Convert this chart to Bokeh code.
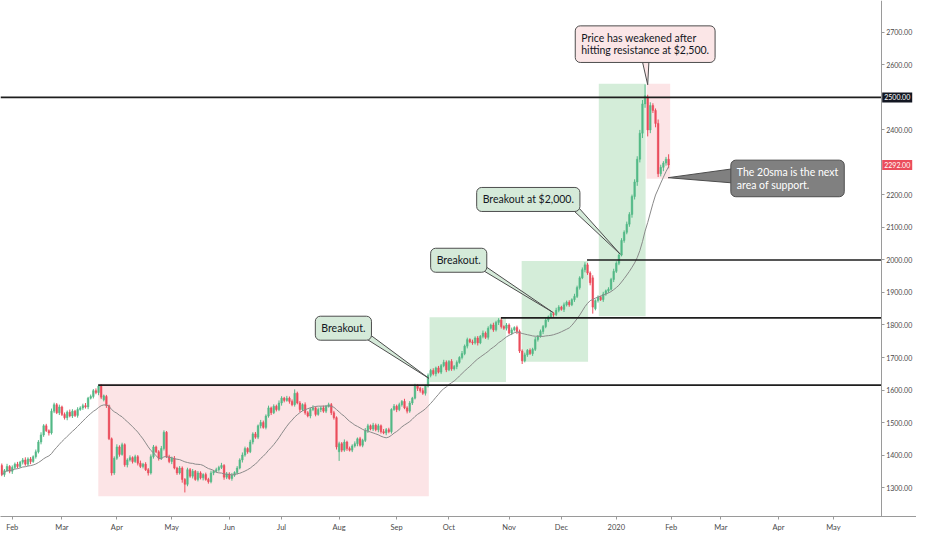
import numpy as np
import pandas as pd
from bokeh.plotting import figure
from bokeh.models import Range1d, FixedTicker, Label, NumeralTickFormatter, LinearAxis
from bokeh.embed import file_html
from bokeh.resources import INLINE

# ---------------- data ----------------
holidays = ["2019-02-18", "2019-04-19", "2019-05-27", "2019-07-04", "2019-09-02",
            "2019-11-28", "2019-12-25", "2020-01-01", "2020-01-20", "2020-02-17", "2020-04-10"]

opens = [
    1368,1340,1352,1365,1350,1362,1372,1365,1378,1385,1372,1388,1380,1395,1410,1440,
    1462,1490,1475,1468,1535,1555,1530,1548,1525,1515,1532,1520,1535,1522,1540,1545,
    1552,1548,1575,1580,1598,1592,1612,1570,1580,1552,1450,1345,1390,1425,1402,1432,
    1370,1385,1392,1380,1395,1375,1365,1372,1355,1345,1395,1425,1410,1390,1420,1470,
    1395,1380,1390,1360,1345,1360,1325,1310,1355,1335,1350,1325,1345,1330,1340,1325,
    1318,1345,1350,1355,1362,1368,1332,1342,1328,1338,1346,1360,1385,1400,1420,1410,
    1440,1465,1455,1490,1500,1485,1520,1545,1530,1550,1540,1560,1575,1568,1575,1565,
    1555,1590,1560,1540,1555,1530,1520,1540,1545,1525,1540,1545,1535,1550,1555,1530,
    1515,1410,1435,1415,1440,1420,1415,1428,1435,1450,1430,1445,1475,1490,1480,1492,
    1478,1490,1472,1468,1478,1472,1540,1550,1540,1555,1565,1545,1535,1560,1575,1612,
    1605,1598,1590,1612,1645,1660,1650,1668,1655,1675,1685,1662,1688,1665,1672,1685,
    1700,1712,1735,1755,1748,1745,1760,1745,1765,1775,1762,1790,1800,1785,1808,1815,
    1795,1790,1800,1775,1785,1792,1780,1720,1690,1708,1722,1712,1725,1755,1765,1780,
    1795,1815,1825,1835,1832,1845,1855,1848,1862,1870,1862,1878,1888,1915,1945,1970,
    1985,1960,1945,1850,1875,1885,1878,1895,1905,1910,1940,1965,1990,2015,2060,2085,
    2110,2140,2195,2240,2310,2390,2480,2500,2400,2475,2460,2420,2265,2285,2298,2310,
]
closes = [
    1340,1352,1365,1350,1362,1372,1365,1378,1385,1372,1388,1380,1395,1410,1440,1462,
    1490,1475,1468,1535,1555,1530,1548,1525,1515,1532,1520,1535,1522,1540,1545,1552,
    1548,1575,1580,1598,1592,1612,1578,1582,1552,1450,1345,1390,1425,1402,1432,1370,
    1385,1392,1380,1395,1375,1365,1372,1355,1345,1395,1425,1410,1390,1420,1470,1395,
    1380,1390,1360,1345,1360,1325,1310,1355,1335,1350,1325,1345,1330,1340,1325,1318,
    1345,1350,1355,1362,1368,1332,1342,1328,1338,1346,1360,1385,1400,1420,1410,1440,
    1465,1455,1490,1500,1485,1520,1545,1530,1550,1540,1560,1575,1568,1575,1565,1555,
    1590,1560,1540,1555,1530,1520,1540,1545,1525,1540,1545,1535,1550,1555,1530,1515,
    1425,1435,1415,1440,1420,1415,1428,1435,1450,1430,1445,1475,1490,1480,1492,1478,
    1490,1472,1468,1478,1472,1540,1550,1540,1555,1565,1545,1535,1560,1575,1612,1605,
    1598,1590,1612,1645,1660,1650,1668,1655,1675,1685,1662,1688,1665,1672,1685,1700,
    1712,1735,1755,1748,1745,1760,1745,1765,1775,1762,1790,1800,1785,1808,1815,1795,
    1790,1800,1775,1785,1792,1780,1720,1690,1708,1722,1712,1725,1755,1765,1780,1795,
    1815,1825,1835,1832,1845,1855,1848,1862,1870,1862,1878,1888,1915,1945,1970,1985,
    1960,1930,1855,1875,1885,1878,1895,1905,1910,1940,1965,1990,2015,2060,2085,2110,
    2140,2195,2240,2310,2390,2480,2505,2400,2475,2460,2420,2265,2285,2298,2310,2292,
]
upper_wick = [
    6,5,8,4,6,5,7,4,6,8,5,6,4,7,6,8,
    5,6,4,8,6,5,7,4,6,5,8,6,4,7,5,6,
    8,4,6,5,7,5,6,4,5,3,4,6,8,5,6,4,
    5,7,4,6,5,8,4,6,5,7,6,4,5,8,6,4,
    6,5,7,4,6,5,4,6,5,7,4,6,5,4,6,5,
    7,4,6,5,8,4,6,5,7,4,6,5,8,6,4,7,
    5,6,4,8,6,5,7,4,6,5,8,6,4,7,5,6,
    12,5,6,4,7,5,6,8,4,6,5,7,4,6,5,6,
    4,6,5,8,4,6,5,7,4,6,5,8,6,4,7,5,
    6,4,8,5,6,4,7,5,6,4,8,5,6,4,7,6,
    5,8,4,6,5,7,4,6,5,8,6,4,7,5,6,4,
    8,5,6,4,7,5,6,4,8,5,6,4,7,5,6,8,
    4,6,5,7,4,6,6,5,7,4,6,5,8,4,6,5,
    7,4,6,5,8,6,4,7,5,6,4,8,6,5,7,8,
    6,5,8,4,6,5,7,4,6,5,8,6,5,7,6,8,
    7,6,8,9,10,12,35,8,10,7,6,12,8,6,7,15,
]
lower_wick = [
    5,7,4,6,8,5,6,4,7,5,6,8,4,6,5,7,
    6,4,8,5,6,4,7,5,6,8,4,6,5,7,4,6,
    5,7,4,6,5,8,6,5,7,4,8,6,5,7,4,6,
    8,5,6,4,7,5,6,4,8,5,6,4,7,5,6,4,
    5,8,4,6,5,10,25,6,5,7,4,6,5,8,4,6,
    5,7,4,6,5,8,6,4,7,5,6,4,8,5,6,4,
    7,5,6,8,4,6,5,7,4,6,5,8,6,4,7,5,
    6,4,8,5,6,4,7,5,6,4,8,5,6,4,7,6,
    8,28,6,5,7,4,6,5,8,4,6,5,7,4,6,5,
    8,6,4,7,5,6,4,8,5,6,4,7,5,6,4,8,
    6,5,7,4,6,5,8,4,6,5,7,4,6,5,8,4,
    6,5,7,4,6,5,8,4,6,5,7,4,6,5,8,6,
    5,7,4,6,5,8,6,10,5,6,4,7,5,6,4,8,
    5,6,4,7,5,6,4,8,5,6,4,7,5,6,4,8,
    6,8,20,5,6,4,7,5,6,4,8,5,6,4,7,6,
    8,10,9,12,10,15,12,20,10,8,12,10,8,12,8,10,
]

# drawn zones (bar index / price)
zone_left = [36.9, 163.6, 198.8, 228.3, 246.6]
zone_right = [163.3, 192.8, 224.2, 246.2, 255.6]
zone_bottom = [1273, 1625, 1687, 1827, 2250]
zone_top = [1619, 1824, 1997, 2542, 2542]
zone_kind = ["down", "up", "up", "up", "down"]

# horizontal levels
level_price = [1615, 1822, 2000, 2500]
level_start = [36.9, 190.9, 223.8, -0.5]

y_ticks = [1300, 1400, 1500, 1600, 1700, 1800, 1900, 2000, 2100, 2200, 2400, 2600, 2700]
last_price = 2292
resistance = 2500

# callouts: text, top-left anchor (bar index, price), pointer (base1, base2, tip)
callout_text = ["Breakout.", "Breakout.", "Breakout at $2,000.",
                "Price has weakened after\nhitting resistance at $2,500.",
                "The 20sma is the next\narea of support."]
callout_x = [119.9, 164.0, 181.6, 219.3, 278.8]
callout_y = [1827, 2036, 2223, 2720, 2307]
callout_kind = ["green", "green", "green", "pink", "gray"]
pointer_xs = [[136.5, 140.5, 163.3], [181.5, 185.0, 210.7], [216.5, 219.8, 236.5],
              [244.0, 247.7, 247.0], [281.0, 281.0, 254.8]]
pointer_ys = [[1772, 1772, 1636], [1980, 1980, 1839], [2168, 2168, 2018],
              [2645, 2645, 2539], [2282, 2236, 2253]]

# ---------------- build ----------------
days = pd.bdate_range("2019-01-28", "2020-06-30", freq="C", holidays=holidays)
n = len(closes)
idx = np.arange(n)
o = np.array(opens, float)
c = np.array(closes, float)
hi = np.maximum(o, c) + np.array(upper_wick)
lo = np.minimum(o, c) - np.array(lower_wick)
up = c >= o
GREEN, RED = "#53b987", "#eb4d5c"
col = [GREEN if u else RED for u in up]

sma = pd.Series(c).rolling(20, min_periods=1).mean().values

# month ticks
ser = pd.Series(np.arange(len(days)), index=days)
month_ticks, month_labels = [], {}
for per, grp in ser.groupby(days.to_period("M")):
    if per < pd.Period("2019-02", "M") or per > pd.Period("2020-05", "M"):
        continue
    i = int(grp.iloc[0])
    month_ticks.append(i)
    month_labels[i] = str(per.year) if per.month == 1 else per.strftime("%b")

AXIS_X = 336.3     # price scale position
XEND = 349.8       # right edge of the canvas
p = figure(width=916, height=534, output_backend="svg", toolbar_location=None,
           x_range=Range1d(-0.5, XEND), y_range=Range1d(1211, 2798),
           y_axis_location=None, min_border_left=0, min_border_top=0,
           min_border_right=0, min_border_bottom=0)
p.outline_line_color = None
p.grid.visible = False
p.background_fill_color = "white"

yax = LinearAxis(fixed_location=AXIS_X)
p.add_layout(yax, "right")

FONT = "Lato"
for ax in (p.xaxis[0], yax):
    ax.axis_line_color = "#9a9a9a"
    ax.major_tick_line_color = "#9a9a9a"
    ax.minor_tick_line_color = None
    ax.major_tick_in = 0
    ax.major_tick_out = 3
    ax.major_label_text_font = FONT
    ax.major_label_text_font_size = "7px"
    ax.major_label_text_color = "#4a4a4a"
p.xaxis.major_label_standoff = 3
yax.major_label_standoff = 2
p.xaxis.major_label_text_font_size = "7.5px"
p.xaxis.ticker = FixedTicker(ticks=month_ticks)
p.xaxis.major_label_overrides = month_labels
yax.ticker = FixedTicker(ticks=y_ticks)
yax.formatter = NumeralTickFormatter(format="0.00")

zone_fill = {"down": "#fce4e6", "up": "#d4edd9"}
p.quad(left=zone_left, right=zone_right, bottom=zone_bottom, top=zone_top,
       fill_color=[zone_fill[k] for k in zone_kind], line_color=None)

p.segment(x0=idx, y0=lo, x1=idx, y1=hi, line_color=col, line_width=1)
p.vbar(x=idx, width=0.62, bottom=np.minimum(o, c), top=np.maximum(o, c),
       fill_color=col, line_color=col, line_width=0.5)

p.line(idx, sma, line_color="#8a8a8a", line_width=1)

p.segment(x0=level_start, x1=[AXIS_X] * len(level_price), y0=level_price, y1=level_price,
          line_color="#1e1e1e", line_width=1.6)

fills = {"green": "#d5ead9", "pink": "#fbe6e7", "gray": "#808080"}
borders = {"green": "#4d4d4d", "pink": "#4d4d4d", "gray": "#4d4d4d"}
tcols = {"green": "#131722", "pink": "#131722", "gray": "#ffffff"}
p.patches(xs=pointer_xs, ys=pointer_ys,
          fill_color=[fills[k] for k in callout_kind],
          line_color=[borders[k] for k in callout_kind], line_width=1)
for t, x, y, k in zip(callout_text, callout_x, callout_y, callout_kind):
    p.add_layout(Label(x=x, y=y, text=t, text_align="left", text_baseline="top",
                       text_font=FONT, text_font_size="10.5px", text_color=tcols[k],
                       text_line_height=1.05,
                       background_fill_color=fills[k], border_line_color=borders[k],
                       border_line_width=1, border_radius=5, padding=6))

for val, bg in ((resistance, "#131722"), (last_price, RED)):
    p.add_layout(Label(x=AXIS_X, y=val, text=f"{val:.2f}", text_align="left",
                       text_baseline="middle", x_offset=1, text_font=FONT,
                       text_font_size="7px", text_color="white",
                       background_fill_color=bg, padding=2))

open("out.html", "w").write(file_html(p, INLINE))
